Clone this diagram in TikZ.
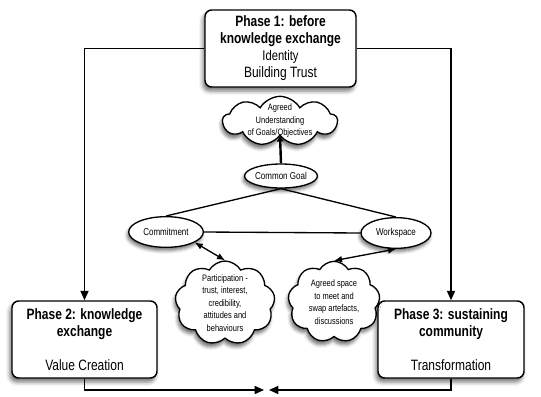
\documentclass[tikz,border=0pt]{standalone}
\usepackage{fontspec}
\setmainfont{Liberation Sans}[FakeStretch=0.8]
\usetikzlibrary{shapes.geometric,shapes.symbols,shadows.blur,arrows.meta}

\tikzset{
  phasebox/.style={draw, rounded corners=5pt, fill=white, line width=1.1pt, align=center,
    minimum height=57.75pt, inner sep=2pt, font=\fontsize{11.25}{12.75}\selectfont,
    blur shadow={shadow xshift=-1.5pt, shadow yshift=-3pt, shadow blur radius=3pt, shadow opacity=55}},
  idea/.style={draw, ellipse, fill=white, line width=1pt, inner sep=0pt,
    font=\fontsize{7.5}{9}\selectfont,
    blur shadow={shadow xshift=-1pt, shadow yshift=-2.5pt, shadow blur radius=2.5pt, shadow opacity=55}},
  thought/.style={draw, cloud, cloud puffs=9, cloud puff arc=120, cloud ignores aspect,
    fill=white, line width=1pt, inner sep=0pt,
    blur shadow={shadow xshift=-1pt, shadow yshift=-3pt, shadow blur radius=2.5pt, shadow opacity=55}},
  thoughttext/.style={align=center, inner sep=0pt, font=\fontsize{7}{9.4}\selectfont},
  flow/.style={line width=1.1pt, -{Triangle[length=7pt,width=6pt]}},
  link/.style={line width=1pt, {Latex[length=6pt,width=5pt]}-{Latex[length=6pt,width=5pt]}},
}

\begin{document}
\begin{tikzpicture}[x=0.75pt, y=-0.75pt]
    \useasboundingbox (0,0) rectangle (541,396);

    % The three phases
    \node[phasebox, minimum width=113.25pt] (p1) at (280.5,48.5)
        {\textbf{Phase 1: before}\\ \textbf{knowledge exchange}\\
         \fontsize{10.5}{12.75}\selectfont Identity\\ Building Trust};
    \node[phasebox, minimum width=108.75pt] (p2) at (84.5,339.5)
        {\textbf{Phase 2: knowledge}\\ \textbf{exchange}\\[12.75pt]
         Value Creation};
    \node[phasebox, minimum width=109.5pt] (p3) at (451,339.5)
        {\textbf{Phase 3: sustaining}\\ \textbf{community}\\[12.75pt]
         Transformation};

    % Flow between the phases
    \draw[flow] (p1.west) -| (p2.north);
    \draw[flow] (p1.east) -| (p3.north);
    \coordinate (meetL) at (264,390);
    \coordinate (meetR) at (269,390);
    \draw[flow] (p2.south) |- (meetL);
    \draw[flow] (p3.south) |- (meetR);

    % Clouds
    \node[thought, minimum width=86pt, minimum height=37pt] (goals) at (280,121) {};
    \node[thoughttext] (goalsT) at (goals.center)
        {Agreed\\ Understanding\\ of Goals/Objectives};
    \node[thought, minimum width=75pt, minimum height=63pt] (partic) at (225,303) {};
    \node[thoughttext] (particT) at (partic.center)
        {Participation -\\ trust, interest,\\ credibility,\\ attitudes and\\ behaviours};
    \node[thought, minimum width=69pt, minimum height=61pt] (space) at (334,302) {};
    \node[thoughttext] (spaceT) at (space.center)
        {Agreed space\\ to meet and\\ swap artefacts,\\ discussions};

    % Ellipses
    \node[idea, minimum width=54pt, minimum height=18pt] (cg) at (281,176) {Common Goal};
    \node[idea, minimum width=56pt, minimum height=23pt] (commit) at (166,232) {Commitment};
    \node[idea, minimum width=52.5pt, minimum height=23pt] (work) at (396,233) {Workspace};

    % Links
    \draw[line width=1.8pt, -{Triangle[length=4pt,width=5pt]}] (cg.north) -- (goals.south);
    \draw[line width=1pt] (cg.south) -- (commit.north);
    \draw[line width=1pt] (cg.south) -- (work.north);
    \draw[line width=1pt] (commit.east) -- (work.west);
    \draw[link] (commit.-20) -- (partic.north);
    \draw[link] (work.south) -- (space.north);
\end{tikzpicture}
\end{document}
